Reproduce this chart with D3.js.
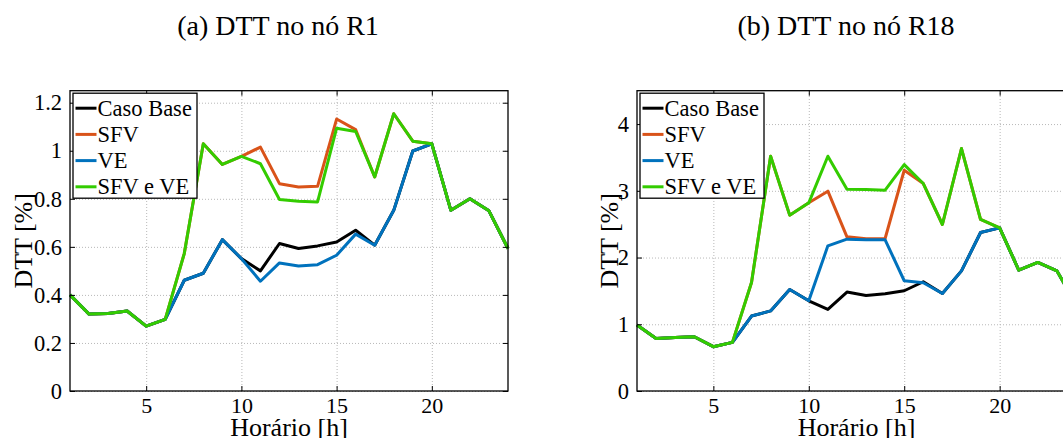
<!DOCTYPE html>
<html>
<head>
<meta charset="utf-8">
<script src="https://cdn.jsdelivr.net/npm/d3@7"></script>
<style>
  body { margin: 0; background: #fff; }
  text { font-family: "Liberation Serif", "Times New Roman", serif; fill: #000; }
</style>
</head>
<body>
<svg id="chart"></svg>
<script>
// Data
const hours = [1,2,3,4,5,6,7,8,9,10,11,12,13,14,15,16,17,18,19,20,21,22,23,24];
const seriesNames = ["Caso Base", "SFV", "VE", "SFV e VE"];
const seriesColors = ["#000000", "#D95319", "#0072BD", "#33CC00"];

// (a) node R1
const r1Base  = [0.40,0.32,0.323,0.333,0.27,0.298,0.461,0.49,0.63,0.551,0.50,0.614,0.593,0.604,0.62,0.669,0.607,0.752,0.999,1.029,0.752,0.80,0.75,0.593];
const r1Sfv   = [0.40,0.32,0.323,0.333,0.27,0.298,0.572,1.029,0.943,0.977,1.015,0.863,0.849,0.852,1.132,1.088,0.891,1.154,1.04,1.029,0.752,0.80,0.75,0.593];
const r1Ve    = [0.40,0.32,0.323,0.333,0.27,0.298,0.461,0.49,0.63,0.551,0.457,0.533,0.52,0.526,0.565,0.653,0.607,0.752,0.999,1.029,0.752,0.80,0.75,0.593];
const r1SfvVe = [0.40,0.32,0.323,0.333,0.27,0.298,0.572,1.029,0.943,0.977,0.946,0.797,0.79,0.787,1.094,1.08,0.891,1.154,1.04,1.029,0.752,0.80,0.75,0.593];

// (b) node R18
const r18Base  = [0.988,0.788,0.80,0.813,0.664,0.729,1.123,1.2,1.52,1.352,1.222,1.482,1.432,1.457,1.502,1.637,1.462,1.80,2.375,2.445,1.811,1.926,1.80,1.3];
const r18Sfv   = [0.988,0.788,0.80,0.813,0.664,0.729,1.627,3.518,2.635,2.82,2.994,2.31,2.28,2.285,3.308,3.109,2.495,3.633,2.57,2.445,1.811,1.926,1.80,1.3];
const r18Ve    = [0.988,0.788,0.80,0.813,0.664,0.729,1.123,1.2,1.52,1.352,2.175,2.275,2.265,2.265,1.652,1.622,1.462,1.80,2.375,2.445,1.811,1.926,1.80,1.3];
const r18SfvVe = [0.988,0.788,0.80,0.813,0.664,0.729,1.627,3.518,2.635,2.82,3.518,3.024,3.019,3.009,3.393,3.109,2.495,3.633,2.57,2.445,1.811,1.926,1.80,1.3];

const xTicks = [5, 10, 15, 20];
const r1YTicks = [0, 0.2, 0.4, 0.6, 0.8, 1, 1.2];
const r18YTicks = [0, 1, 2, 3, 4];

const W = 1063, H = 438;
const svg = d3.select("#chart").attr("width", W).attr("height", H);

function drawPanel(cfg) {
    const g = svg.append("g");
    const x = d3.scaleLinear().domain([1, 24]).range([cfg.left, cfg.right]);
    const y = d3.scaleLinear().domain([0, cfg.yMax]).range([cfg.bottom, cfg.top]);

    // title
    svg.append("text")
        .attr("x", cfg.titleX).attr("y", 35)
        .attr("text-anchor", "middle")
        .style("font-size", "28px")
        .text(cfg.title);

    // grid
    g.append("g")
        .attr("transform", `translate(0,${cfg.bottom})`)
        .call(d3.axisBottom(x).tickValues(xTicks).tickSize(-(cfg.bottom - cfg.top)).tickFormat(""))
        .call(a => a.select(".domain").remove())
        .selectAll("line").attr("stroke", "#b8b8b8").attr("stroke-dasharray", "1,2");
    g.append("g")
        .attr("transform", `translate(${cfg.left},0)`)
        .call(d3.axisLeft(y).tickValues(cfg.yTicks).tickSize(-(cfg.right - cfg.left)).tickFormat(""))
        .call(a => a.select(".domain").remove())
        .selectAll("line").attr("stroke", "#b8b8b8").attr("stroke-dasharray", "1,2");

    // lines
    const line = d3.line().x((d, i) => x(hours[i])).y(d => y(d));
    cfg.series.forEach((vals, k) => {
        g.append("path")
            .attr("d", line(vals))
            .attr("fill", "none")
            .attr("stroke", seriesColors[k])
            .attr("stroke-width", 3)
            .attr("stroke-linejoin", "round");
    });

    // frame
    g.append("rect")
        .attr("x", cfg.left).attr("y", cfg.top)
        .attr("width", cfg.right - cfg.left).attr("height", cfg.bottom - cfg.top)
        .attr("fill", "none").attr("stroke", "#000").attr("stroke-width", 1.3);

    // inside ticks and labels
    const xAx = g.append("g")
        .attr("transform", `translate(0,${cfg.bottom})`)
        .call(d3.axisBottom(x).tickValues(xTicks).tickSize(-5).tickPadding(6));
    xAx.select(".domain").remove();
    xAx.selectAll("text").style("font-size", "22px").attr("dy", "0.71em");
    g.append("g")
        .attr("transform", `translate(0,${cfg.top})`)
        .call(d3.axisTop(x).tickValues(xTicks).tickSize(-5).tickFormat(""))
        .call(a => a.select(".domain").remove());

    const yAx = g.append("g")
        .attr("transform", `translate(${cfg.left},0)`)
        .call(d3.axisLeft(y).tickValues(cfg.yTicks).tickSize(-5).tickPadding(8).tickFormat(d3.format("")));
    yAx.select(".domain").remove();
    yAx.selectAll("text").style("font-size", "22.5px");
    g.append("g")
        .attr("transform", `translate(${cfg.right},0)`)
        .call(d3.axisRight(y).tickValues(cfg.yTicks).tickSize(-5).tickFormat(""))
        .call(a => a.select(".domain").remove());
    g.selectAll(".tick line").filter(function () { return !this.getAttribute("stroke-dasharray"); })
        .attr("stroke", "#000");

    // axis labels
    svg.append("text")
        .attr("x", (cfg.left + cfg.right) / 2).attr("y", 436)
        .attr("text-anchor", "middle")
        .style("font-size", "26px")
        .text("Horário [h]");
    svg.append("text")
        .attr("transform", `translate(${cfg.yLabelX},${(cfg.top + cfg.bottom) / 2}) rotate(-90)`)
        .attr("text-anchor", "middle")
        .style("font-size", "26px")
        .text("DTT [%]");

    // legend
    const lg = g.append("g");
    const lx = cfg.left + 3, ly = cfg.top + 2.5;
    lg.append("rect")
        .attr("x", lx).attr("y", ly).attr("width", 124).attr("height", 105)
        .attr("fill", "#fff").attr("stroke", "#000").attr("stroke-width", 1.3);
    seriesNames.forEach((name, k) => {
        const cy = ly + 15 + k * 26.2;
        lg.append("line")
            .attr("x1", lx + 2.5).attr("x2", lx + 23.5).attr("y1", cy).attr("y2", cy)
            .attr("stroke", seriesColors[k]).attr("stroke-width", 3);
        lg.append("text")
            .attr("x", lx + 24.5).attr("y", cy + 7.5)
            .style("font-size", "22.5px")
            .text(name);
    });
}

drawPanel({
    title: "(a) DTT no nó R1", titleX: 278,
    left: 70, right: 508, top: 90.7, bottom: 391, yMax: 1.25,
    yTicks: r1YTicks, yLabelX: 32,
    series: [r1Base, r1Sfv, r1Ve, r1SfvVe]
});
drawPanel({
    title: "(b) DTT no nó R18", titleX: 846,
    left: 637, right: 1076, top: 90.7, bottom: 391, yMax: 4.5,
    yTicks: r18YTicks, yLabelX: 618,
    series: [r18Base, r18Sfv, r18Ve, r18SfvVe]
});
</script>
</body>
</html>
